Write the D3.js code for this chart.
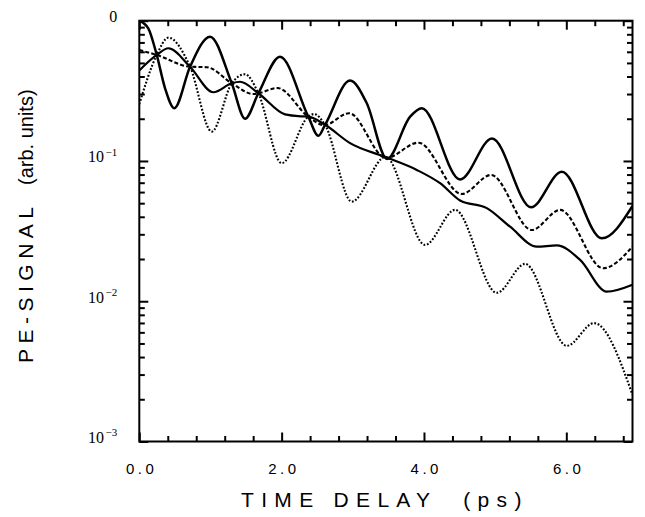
<!DOCTYPE html>
<html>
<head>
<meta charset="utf-8">
<script src="https://cdn.jsdelivr.net/npm/d3@7"></script>
<style>
    body { margin: 0; background: #fff; }
    svg { display: block; }
</style>
</head>
<body>
<svg id="chart"></svg>
<script>
// Time delay (ps) and PE signal (arb. units)
// thick solid curve, strong oscillation
const strongT = [0, 0.126, 0.245, 0.361, 0.492, 0.713, 0.994, 1.299, 1.486, 1.673, 1.978, 2.375, 2.516, 2.61, 2.961, 3.196, 3.481, 3.805, 3.969, 4.507, 4.957, 5.505, 5.937, 6.499, 6.93];
const strongV = [1.0, 0.883, 0.570, 0.331, 0.238, 0.470, 0.769, 0.358, 0.200, 0.304, 0.554, 0.207, 0.151, 0.181, 0.374, 0.258, 0.1034, 0.207, 0.238, 0.0738, 0.1447, 0.0468, 0.0839, 0.0281, 0.0478];

// dashed curve
const dashT = [0, 0.245, 0.713, 0.95, 1.299, 1.602, 1.673, 1.942, 2.375, 2.60, 2.947, 3.467, 3.921, 4.531, 4.943, 5.515, 5.913, 6.517, 6.93];
const dashV = [0.618, 0.570, 0.470, 0.466, 0.358, 0.300, 0.304, 0.331, 0.207, 0.180, 0.219, 0.105, 0.135, 0.0582, 0.0795, 0.0322, 0.0448, 0.0172, 0.0245];

// dotted curve
const dotT = [0, 0.245, 0.408, 0.713, 1.018, 1.299, 1.486, 1.673, 2.001, 2.375, 2.455, 2.61, 2.985, 3.46, 4.015, 4.437, 5.023, 5.421, 6.007, 6.391, 6.93];
const dotV = [0.254, 0.570, 0.757, 0.470, 0.162, 0.358, 0.415, 0.304, 0.0964, 0.207, 0.216, 0.181, 0.0513, 0.107, 0.0252, 0.0448, 0.01148, 0.01846, 0.00481, 0.00698, 0.00215];

// thinner solid curve, smooth decay
const smoothT = [0, 0.245, 0.408, 0.713, 1.04, 1.299, 1.415, 1.673, 2.048, 2.283, 2.375, 2.61, 2.961, 3.45, 3.899, 4.226, 4.507, 4.883, 5.21, 5.585, 5.866, 6.194, 6.569, 6.93];
const smoothV = [0.442, 0.570, 0.636, 0.470, 0.309, 0.358, 0.367, 0.304, 0.215, 0.208, 0.207, 0.181, 0.134, 0.107, 0.0863, 0.0694, 0.0523, 0.0461, 0.0340, 0.0245, 0.0250, 0.0197, 0.0117, 0.0131];

// Axis ticks and labels
const xMajor = [0, 2, 4, 6];
const xLabels = ["0.0", "2.0", "4.0", "6.0"];
const xMinor = [0.4, 0.8, 1.2, 1.6, 2.4, 2.8, 3.2, 3.6, 4.4, 4.8, 5.2, 5.6, 6.4, 6.8];
const yDecades = [1, 0.1, 0.01, 0.001];
const yBase = ["0", "10", "10", "10"];
const ySup = ["", "\u22121", "\u22122", "\u22123"];

// Chart dimensions and margins
const svgWidth = 645;
const svgHeight = 517;
const margin = { top: 20.7, right: 12.5, bottom: 75.5, left: 139.3 };
const w = svgWidth - margin.left - margin.right;
const h = svgHeight - margin.top - margin.bottom;

const root = d3.select("#chart")
    .attr("width", svgWidth)
    .attr("height", svgHeight);

const svg = root.append("g")
    .attr("transform", `translate(${margin.left}, ${margin.top})`);

// Scales
const xScale = d3.scaleLinear().domain([0, 6.93]).range([0, w]);
const yScale = d3.scaleLog().domain([0.001, 1]).range([h, 0]);

const yMinor = [];
[0.001, 0.01, 0.1].forEach(dec => {
    for (let k = 2; k <= 9; k++) yMinor.push(dec * k);
});

// Ticks pointing inward on all four sides
function tickAxis(axis, tx, ty) {
    const g = svg.append("g")
        .attr("transform", `translate(${tx}, ${ty})`)
        .call(axis);
    g.select(".domain").remove();
    g.selectAll("line").attr("stroke", "#000").attr("stroke-width", 2);
    return g;
}

const xAxis = tickAxis(
    d3.axisBottom(xScale).tickValues(xMajor).tickSizeInner(-9).tickSizeOuter(0)
        .tickPadding(22).tickFormat((d, i) => xLabels[i]),
    0, h);
xAxis.selectAll("text")
    .attr("font-family", "'Liberation Sans', Arial, sans-serif")
    .attr("font-size", 15)
    .attr("letter-spacing", 3.5)
    .attr("dx", 1.75)
    .attr("fill", "#000");

tickAxis(d3.axisBottom(xScale).tickValues(xMinor).tickSize(-5.5).tickFormat(""), 0, h);
tickAxis(d3.axisTop(xScale).tickValues(xMajor).tickSize(-9).tickFormat(""), 0, 0);
tickAxis(d3.axisTop(xScale).tickValues(xMinor).tickSize(-5.5).tickFormat(""), 0, 0);
tickAxis(d3.axisLeft(yScale).tickValues(yDecades).tickSize(-9).tickFormat(""), 0, 0);
tickAxis(d3.axisLeft(yScale).tickValues(yMinor).tickSize(-5.5).tickFormat(""), 0, 0);
tickAxis(d3.axisRight(yScale).tickValues(yDecades).tickSize(-9).tickFormat(""), w, 0);
tickAxis(d3.axisRight(yScale).tickValues(yMinor).tickSize(-5.5).tickFormat(""), w, 0);

// Y labels as powers of ten
const yLab = svg.selectAll(".ylab")
    .data(yDecades)
    .enter()
    .append("text")
    .attr("class", "ylab")
    .attr("x", -22)
    .attr("y", d => yScale(d) + 1.5)
    .attr("text-anchor", "end")
    .attr("font-family", "'Liberation Serif', 'Times New Roman', serif")
    .attr("font-size", 16)
    .attr("fill", "#000");
yLab.append("tspan").text((d, i) => yBase[i]);
yLab.filter((d, i) => ySup[i] !== "")
    .append("tspan")
    .attr("dx", 1.5)
    .attr("dy", -6.5)
    .attr("font-size", 11)
    .text(d => ySup[yDecades.indexOf(d)]);

// Curves
svg.append("clipPath").attr("id", "plot-clip")
    .append("rect").attr("width", w).attr("height", h);

const curves = [
    { t: strongT, v: strongV, width: 2.5, dash: null },
    { t: smoothT, v: smoothV, width: 2.2, dash: null },
    { t: dashT, v: dashV, width: 2.1, dash: "4,2.2" },
    { t: dotT, v: dotV, width: 2.1, dash: "1.8,1.8" }
];

const line = d3.line()
    .x(d => xScale(d[0]))
    .y(d => yScale(d[1]))
    .curve(d3.curveMonotoneX);

svg.append("g")
    .attr("clip-path", "url(#plot-clip)")
    .selectAll("path")
    .data(curves)
    .enter()
    .append("path")
    .attr("d", c => line(c.t.map((t, i) => [t, c.v[i]])))
    .attr("fill", "none")
    .attr("stroke", "#000")
    .attr("stroke-width", c => c.width)
    .attr("stroke-dasharray", c => c.dash)
    .attr("stroke-linejoin", "round");

// Frame
svg.append("rect")
    .attr("width", w)
    .attr("height", h)
    .attr("fill", "none")
    .attr("stroke", "#000")
    .attr("stroke-width", 2);

// Axis titles
svg.append("text")
    .attr("x", w / 2 - 1)
    .attr("y", h + 66)
    .attr("text-anchor", "middle")
    .attr("font-family", "'Liberation Sans', Arial, sans-serif")
    .attr("font-size", 21)
    .attr("letter-spacing", 7.3)
    .attr("xml:space", "preserve")
    .attr("fill", "#000")
    .text("TIME DELAY  (ps)");

svg.append("text")
    .attr("transform", `translate(-106.3, 342.3) rotate(-90)`)
    .attr("font-family", "'Liberation Sans', Arial, sans-serif")
    .attr("font-size", 21)
    .attr("letter-spacing", 5.5)
    .attr("fill", "#000")
    .text("PE-SIGNAL");

svg.append("text")
    .attr("transform", `translate(-106.3, 164.3) rotate(-90)`)
    .attr("font-family", "'Liberation Sans', Arial, sans-serif")
    .attr("font-size", 20)
    .attr("fill", "#000")
    .text("(arb. units)");
</script>
</body>
</html>
